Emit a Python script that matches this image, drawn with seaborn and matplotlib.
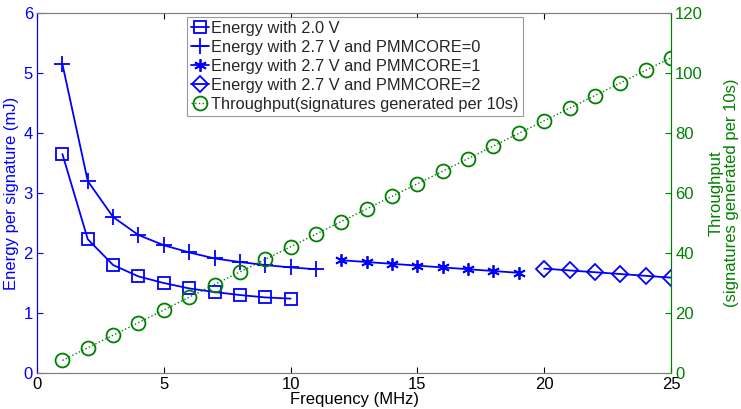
import matplotlib
matplotlib.use("Agg")
import matplotlib.pyplot as plt
import seaborn as sns
import pandas as pd

sns.set_style("white")
plt.rcParams['font.family'] = ['Liberation Sans', 'DejaVu Sans']

freq_20 = [1, 2, 3, 4, 5, 6, 7, 8, 9, 10]
energy_20 = [3.65, 2.23, 1.80, 1.61, 1.50, 1.41, 1.35, 1.30, 1.26, 1.24]

freq_27_0 = [1, 2, 3, 4, 5, 6, 7, 8, 9, 10, 11]
energy_27_0 = [5.15, 3.20, 2.60, 2.30, 2.13, 2.01, 1.91, 1.85, 1.80, 1.76, 1.73]

freq_27_1 = [12, 13, 14, 15, 16, 17, 18, 19]
energy_27_1 = [1.88, 1.85, 1.82, 1.79, 1.76, 1.73, 1.70, 1.67]

freq_27_2 = [20, 21, 22, 23, 24, 25]
energy_27_2 = [1.74, 1.71, 1.68, 1.65, 1.62, 1.59]

freq_tp = list(range(1, 26))
throughput = [4.2, 8.4, 12.6, 16.8, 21.0, 25.3, 29.5, 33.7, 37.9, 42.1, 46.3, 50.5,
              54.7, 58.9, 63.1, 67.3, 71.5, 75.7, 79.9, 84.1, 88.3, 92.5, 96.7, 100.9, 105.1]

labels = ["Energy with 2.0 V",
          "Energy with 2.7 V and PMMCORE=0",
          "Energy with 2.7 V and PMMCORE=1",
          "Energy with 2.7 V and PMMCORE=2",
          "Throughput(signatures generated per 10s)"]

BLUE = "#0000FF"
GREEN = "#008000"

fig = plt.figure(figsize=(7.41, 4.09), dpi=100)
ax = fig.add_axes([0.05, 0.088, 0.8555, 0.88])
ax2 = ax.twinx()

fs = 12
sns.lineplot(x=freq_20, y=energy_20, ax=ax, color=BLUE, lw=1.3, marker="s", markersize=9,
             markerfacecolor="none", markeredgecolor=BLUE, markeredgewidth=1.3, label=labels[0])
sns.lineplot(x=freq_27_0, y=energy_27_0, ax=ax, color=BLUE, lw=1.3, marker="+", markersize=11,
             markeredgewidth=1.3, markeredgecolor=BLUE, label=labels[1])
sns.lineplot(x=freq_27_1, y=energy_27_1, ax=ax, color=BLUE, lw=1.3, marker=(6, 2, 0), markersize=9,
             markeredgewidth=1.3, markeredgecolor=BLUE, label=labels[2])
sns.lineplot(x=freq_27_2, y=energy_27_2, ax=ax, color=BLUE, lw=1.3, marker="D", markersize=8,
             markerfacecolor="none", markeredgecolor=BLUE, markeredgewidth=1.3, label=labels[3])
sns.lineplot(x=freq_tp, y=throughput, ax=ax2, color=GREEN, lw=1.0, linestyle=":", marker="o",
             markersize=10, markerfacecolor="none", markeredgecolor=GREEN, markeredgewidth=1.3,
             label=labels[4])

ax.set_xlim(0, 25)
ax.set_ylim(0, 6)
ax2.set_ylim(0, 120)
ax.set_xticks([0, 5, 10, 15, 20, 25])
ax.set_yticks([0, 1, 2, 3, 4, 5, 6])
ax2.set_yticks([0, 20, 40, 60, 80, 100, 120])

ax.set_xlabel("Frequency (MHz)", fontsize=fs, color="black", labelpad=0)
ax.set_ylabel("Energy per signature (mJ)", fontsize=fs, color=BLUE, labelpad=3)
ax2.set_ylabel("Throughput\n(signatures generated per 10s)", fontsize=fs, color=GREEN,
               rotation=90, labelpad=4, linespacing=1.05)

ax.tick_params(axis="x", direction="in", length=4, labelsize=fs, colors="black", top=True,
               bottom=True, pad=3)
ax.tick_params(axis="y", direction="in", length=4, labelsize=fs, colors=BLUE, pad=3)
ax2.tick_params(axis="y", direction="in", length=4, labelsize=fs, colors=GREEN, pad=3)

for a in (ax, ax2):
    a.spines["top"].set_color("#808080")
    a.spines["bottom"].set_color("#808080")
    a.spines["left"].set_color(BLUE)
    a.spines["right"].set_color(GREEN)
    for s in a.spines.values():
        s.set_linewidth(0.8)

h1, l1 = ax.get_legend_handles_labels()
h2, l2 = ax2.get_legend_handles_labels()
if ax2.get_legend():
    ax2.get_legend().remove()
leg = ax.legend(h1 + h2, l1 + l2, loc="upper left", bbox_to_anchor=(0.236, 0.99), fontsize=11.8,
                frameon=True, fancybox=False, edgecolor="#808080", handlelength=1.1,
                handletextpad=0.15, borderpad=0.25, labelspacing=0.25, borderaxespad=0)
leg.get_frame().set_linewidth(0.8)
leg.set_zorder(10)

fig.savefig("out.png", dpi=100)
